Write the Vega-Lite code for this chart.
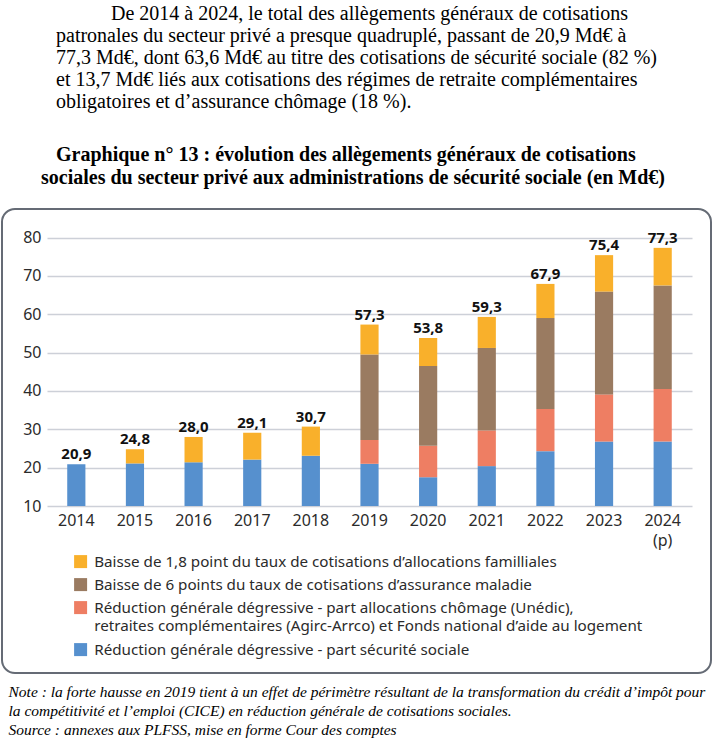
{
  "$schema": "https://vega.github.io/schema/vega-lite/v6.json",
  "width": 709,
  "height": 464,
  "autosize": {"type": "none"},
  "padding": {"left": 2, "top": 209, "right": 2, "bottom": 77},
  "background": "white",
  "title": {
    "text": [
      "\u200b\u00a0\u00a0\u00a0\u00a0\u00a0\u00a0\u00a0\u00a0\u00a0\u00a0\u00a0\u00a0\u00a0\u00a0De 2014 à 2024, le total des allègements généraux de cotisations",
      "\u200b\u00a0\u00a0\u00a0patronales du secteur privé a presque quadruplé, passant de 20,9 Md€ à",
      "\u200b\u00a0\u00a0\u00a077,3 Md€, dont 63,6 Md€ au titre des cotisations de sécurité sociale (82 %)",
      "\u200b\u00a0\u00a0\u00a0et 13,7 Md€ liés aux cotisations des régimes de retraite complémentaires",
      "\u200b\u00a0\u00a0\u00a0obligatoires et d’assurance chômage (18 %)."
    ],
    "subtitle": [
      "\u200b\u00a0\u00a0\u00a0Graphique n° 13 : évolution des allègements généraux de cotisations",
      "sociales du secteur privé aux administrations de sécurité sociale (en Md€)"
    ],
    "anchor": "start",
    "frame": "group",
    "align": "left",
    "dx": 39,
    "offset": 21,
    "font": "Liberation Serif",
    "fontSize": 20,
    "fontWeight": "normal",
    "color": "#000000",
    "lineHeight": 22,
    "subtitleFont": "Liberation Serif",
    "subtitleFontSize": 20,
    "subtitleFontWeight": "bold",
    "subtitleColor": "#000000",
    "subtitleLineHeight": 23,
    "subtitlePadding": 33
  },
  "data": {
    "values": [
      {"year": "2014", "cat": "Réduction générale dégressive - part sécurité sociale", "value": 20.9},
      {"year": "2015", "cat": "Réduction générale dégressive - part sécurité sociale", "value": 21.1},
      {"year": "2015", "cat": "Baisse de 1,8 point du taux de cotisations d’allocations familliales", "value": 3.7},
      {"year": "2016", "cat": "Réduction générale dégressive - part sécurité sociale", "value": 21.4},
      {"year": "2016", "cat": "Baisse de 1,8 point du taux de cotisations d’allocations familliales", "value": 6.6},
      {"year": "2017", "cat": "Réduction générale dégressive - part sécurité sociale", "value": 22.1},
      {"year": "2017", "cat": "Baisse de 1,8 point du taux de cotisations d’allocations familliales", "value": 7.0},
      {"year": "2018", "cat": "Réduction générale dégressive - part sécurité sociale", "value": 23.1},
      {"year": "2018", "cat": "Baisse de 1,8 point du taux de cotisations d’allocations familliales", "value": 7.6},
      {"year": "2019", "cat": "Réduction générale dégressive - part sécurité sociale", "value": 21.0},
      {"year": "2019", "cat": "Réduction générale dégressive - part allocations chômage (Unédic), retraites complémentaires (Agirc-Arrco) et Fonds national d’aide au logement", "value": 6.2},
      {"year": "2019", "cat": "Baisse de 6 points du taux de cotisations d’assurance maladie", "value": 22.3},
      {"year": "2019", "cat": "Baisse de 1,8 point du taux de cotisations d’allocations familliales", "value": 7.8},
      {"year": "2020", "cat": "Réduction générale dégressive - part sécurité sociale", "value": 17.5},
      {"year": "2020", "cat": "Réduction générale dégressive - part allocations chômage (Unédic), retraites complémentaires (Agirc-Arrco) et Fonds national d’aide au logement", "value": 8.2},
      {"year": "2020", "cat": "Baisse de 6 points du taux de cotisations d’assurance maladie", "value": 20.8},
      {"year": "2020", "cat": "Baisse de 1,8 point du taux de cotisations d’allocations familliales", "value": 7.3},
      {"year": "2021", "cat": "Réduction générale dégressive - part sécurité sociale", "value": 20.4},
      {"year": "2021", "cat": "Réduction générale dégressive - part allocations chômage (Unédic), retraites complémentaires (Agirc-Arrco) et Fonds national d’aide au logement", "value": 9.3},
      {"year": "2021", "cat": "Baisse de 6 points du taux de cotisations d’assurance maladie", "value": 21.5},
      {"year": "2021", "cat": "Baisse de 1,8 point du taux de cotisations d’allocations familliales", "value": 8.1},
      {"year": "2022", "cat": "Réduction générale dégressive - part sécurité sociale", "value": 24.3},
      {"year": "2022", "cat": "Réduction générale dégressive - part allocations chômage (Unédic), retraites complémentaires (Agirc-Arrco) et Fonds national d’aide au logement", "value": 11.0},
      {"year": "2022", "cat": "Baisse de 6 points du taux de cotisations d’assurance maladie", "value": 23.7},
      {"year": "2022", "cat": "Baisse de 1,8 point du taux de cotisations d’allocations familliales", "value": 8.9},
      {"year": "2023", "cat": "Réduction générale dégressive - part sécurité sociale", "value": 26.8},
      {"year": "2023", "cat": "Réduction générale dégressive - part allocations chômage (Unédic), retraites complémentaires (Agirc-Arrco) et Fonds national d’aide au logement", "value": 12.3},
      {"year": "2023", "cat": "Baisse de 6 points du taux de cotisations d’assurance maladie", "value": 26.8},
      {"year": "2023", "cat": "Baisse de 1,8 point du taux de cotisations d’allocations familliales", "value": 9.5},
      {"year": "2024", "cat": "Réduction générale dégressive - part sécurité sociale", "value": 26.8},
      {"year": "2024", "cat": "Réduction générale dégressive - part allocations chômage (Unédic), retraites complémentaires (Agirc-Arrco) et Fonds national d’aide au logement", "value": 13.7},
      {"year": "2024", "cat": "Baisse de 6 points du taux de cotisations d’assurance maladie", "value": 27.0},
      {"year": "2024", "cat": "Baisse de 1,8 point du taux de cotisations d’allocations familliales", "value": 9.8}
    ]
  },
  "encoding": {
    "x": {
      "field": "year",
      "type": "nominal",
      "scale": {"range": [45, 690], "paddingInner": 0.69, "paddingOuter": 0.345},
      "axis": {
        "labelAngle": 0,
        "domain": false,
        "ticks": false,
        "tickSize": 0,
        "grid": false,
        "offset": -167,
        "labelPadding": 6,
        "labelFont": "Noto Sans",
        "labelFontSize": 16,
        "labelColor": "#2b2b2b",
        "labelLineHeight": 20,
        "labelExpr": "datum.label == '2024' ? ['2024', '(p)'] : datum.label",
        "title": [
          "Note : la forte hausse en 2019 tient à un effet de périmètre résultant de la transformation du crédit d’impôt pour",
          "la compétitivité et l’emploi (CICE) en réduction générale de cotisations sociales.",
          "Source : annexes aux PLFSS, mise en forme Cour des comptes"
        ],
        "titleFont": "Liberation Serif",
        "titleFontStyle": "italic",
        "titleFontWeight": "normal",
        "titleFontSize": 15.5,
        "titleColor": "#000000",
        "titleLineHeight": 19,
        "titleAlign": "left",
        "titleAnchor": "start",
        "titleBaseline": "top",
        "titleX": 6,
        "titleY": 178
      }
    }
  },
  "layer": [
    {
      "mark": {"type": "bar"},
      "encoding": {
        "y": {
          "field": "value",
          "type": "quantitative",
          "aggregate": "sum",
          "stack": "zero",
          "scale": {"domain": [10, 80], "range": [297, 28.5], "clamp": true, "nice": false, "zero": false},
          "axis": {
            "values": [10, 20, 30, 40, 50, 60, 70, 80],
            "domain": false,
            "ticks": false,
            "tickSize": 0,
            "offset": -45,
            "labelPadding": 6,
            "labelFont": "Noto Sans",
            "labelFontSize": 16,
            "labelColor": "#2b2b2b",
            "gridColor": "#CDD0D8",
            "gridWidth": 1.5,
            "title": null
          }
        },
        "color": {
          "field": "cat",
          "type": "nominal",
          "sort": [
            "Réduction générale dégressive - part sécurité sociale",
            "Réduction générale dégressive - part allocations chômage (Unédic), retraites complémentaires (Agirc-Arrco) et Fonds national d’aide au logement",
            "Baisse de 6 points du taux de cotisations d’assurance maladie",
            "Baisse de 1,8 point du taux de cotisations d’allocations familliales"
          ],
          "scale": {
            "domain": [
              "Réduction générale dégressive - part sécurité sociale",
              "Réduction générale dégressive - part allocations chômage (Unédic), retraites complémentaires (Agirc-Arrco) et Fonds national d’aide au logement",
              "Baisse de 6 points du taux de cotisations d’assurance maladie",
              "Baisse de 1,8 point du taux de cotisations d’allocations familliales"
            ],
            "range": ["#5690CE", "#EE7E63", "#9A7B61", "#F9B02B"]
          },
          "legend": {
            "title": null,
            "orient": "none",
            "legendX": 71,
            "legendY": 345,
            "direction": "vertical",
            "padding": 0,
            "values": [
              "Baisse de 1,8 point du taux de cotisations d’allocations familliales",
              "Baisse de 6 points du taux de cotisations d’assurance maladie",
              "Réduction générale dégressive - part allocations chômage (Unédic), retraites complémentaires (Agirc-Arrco) et Fonds national d’aide au logement",
              "Réduction générale dégressive - part sécurité sociale"
            ],
            "symbolType": "square",
            "symbolSize": 169,
            "symbolStrokeWidth": 0,
            "symbolOpacity": 1,
            "labelFont": "Noto Sans",
            "labelFontSize": 15.2,
            "labelColor": "#2b2b2b",
            "labelLimit": 0,
            "labelOffset": 6,
            "labelBaseline": "alphabetic",
            "labelExpr": "indexof(datum.label, 'Unédic') > 0 ? ['Réduction générale dégressive - part allocations chômage (Unédic),', 'retraites complémentaires (Agirc-Arrco) et Fonds national d’aide au logement'] : datum.label",
            "rowPadding": 7,
            "encode": {"labels": {"update": {"dy": {"value": 5}, "lineHeight": {"value": 18.5}}}}
          }
        }
      }
    },
    {
      "transform": [
        {"aggregate": [{"op": "sum", "field": "value", "as": "total"}], "groupby": ["year"]}
      ],
      "mark": {"type": "text", "baseline": "alphabetic", "dy": -5, "font": "Noto Sans", "fontSize": 15, "fontWeight": "bold", "color": "#111111"},
      "encoding": {
        "y": {"field": "total", "type": "quantitative"},
        "text": {"field": "total", "type": "quantitative", "format": ".1f"}
      }
    }
  ],
  "config": {
    "locale": {"number": {"decimal": ",", "thousands": " ", "grouping": [3], "currency": ["", " €"]}},
    "view": {"stroke": "#656b75", "strokeWidth": 2, "cornerRadius": 13, "fill": "white"}
  }
}
